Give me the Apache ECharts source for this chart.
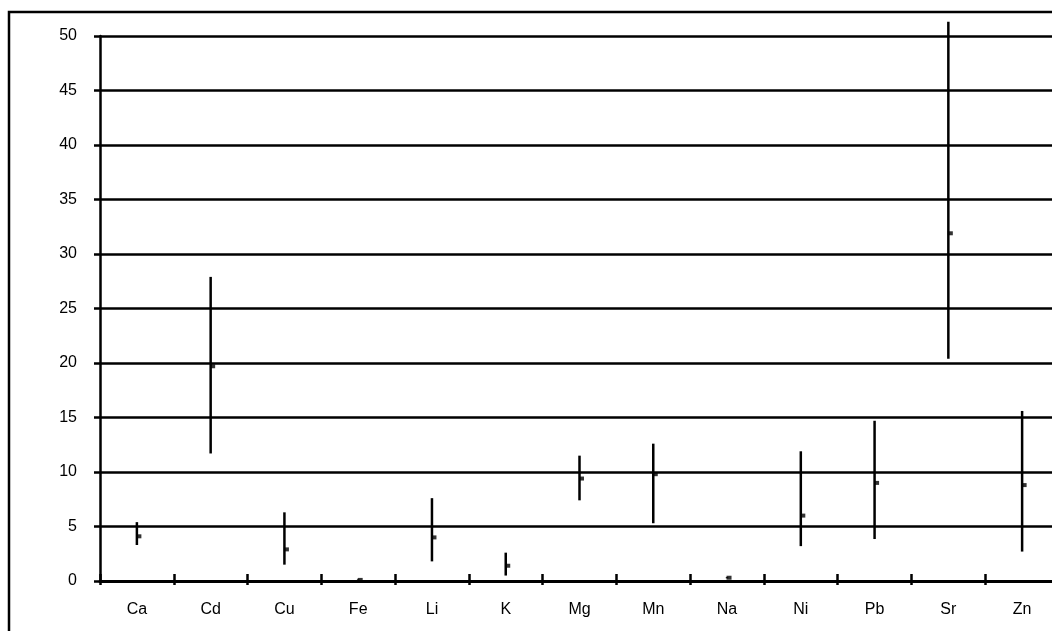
<!DOCTYPE html>
<html>
<head>
<meta charset="utf-8">
<script src="https://cdn.jsdelivr.net/npm/echarts@6/dist/echarts.min.js"></script>
<style>html,body{margin:0;padding:0;background:#fff;overflow:hidden;width:1052px;height:631px}#c{width:1059px;height:631px}</style>
</head>
<body>
<div id="c"></div>
<script>
var categories = ['Ca','Cd','Cu','Fe','Li','K','Mg','Mn','Na','Ni','Pb','Sr','Zn'];
var meanValues = [4.1, 19.7, 2.9, 0.1, 4.0, 1.4, 9.4, 9.8, 0.3, 6.0, 9.0, 31.9, 8.8];
var highValues = [5.4, 27.9, 6.3, 0.15, 7.6, 2.6, 11.5, 12.6, 0.35, 11.9, 14.7, 51.3, 15.6];
var lowValues  = [3.3, 11.7, 1.5, 0.05, 1.8, 0.5, 7.4, 5.3, 0.25, 3.2, 3.85, 20.4, 2.7];
var yTicks = [0,5,10,15,20,25,30,35,40,45,50];

var chart = echarts.init(document.getElementById('c'), null, {renderer:'canvas'});
var rangeData = categories.map(function(c,i){ return [i, lowValues[i], highValues[i]]; });
var font = 'Liberation Sans, Arial, sans-serif';
chart.setOption({
  animation:false,
  backgroundColor:'#fff',
  graphic:[{type:'polyline', shape:{points:[[9,640],[9,12],[1070,12]]}, style:{stroke:'#000', lineWidth:2.5, fill:null}}],
  grid:{left:100, top:36, height:545, width:959},
  xAxis:[{
    type:'category', data:categories, boundaryGap:true,
    axisLine:{lineStyle:{color:'#000', width:3}},
    axisTick:{show:true, inside:true, length:7, lineStyle:{color:'#000', width:2.5}},
    axisLabel:{color:'#000', fontFamily:font, fontSize:16, margin:21},
    splitLine:{show:false}
  },{
    type:'category', data:categories, boundaryGap:true, position:'bottom', gridIndex:0,
    axisLine:{show:false},
    axisTick:{show:true, inside:false, length:4, lineStyle:{color:'#000', width:2.5}},
    axisLabel:{show:false}, splitLine:{show:false}
  }],
  yAxis:{
    type:'value', min:0, max:50, interval:5,
    axisLine:{show:true, lineStyle:{color:'#000', width:2.5}},
    axisTick:{show:true, length:6, lineStyle:{color:'#000', width:2.5}},
    axisLabel:{color:'#000', fontFamily:font, fontSize:16, margin:23,
      formatter:function(v){ return yTicks.indexOf(v)>=0 ? String(v) : ''; }},
    splitLine:{show:true, lineStyle:{color:'#000', width:2.5}}
  },
  series:[{
    type:'custom', clip:false, data:rangeData, z:5,
    renderItem:function(params, api){
      var p1 = api.coord([api.value(0), api.value(1)]);
      var p2 = api.coord([api.value(0), api.value(2)]);
      return {type:'line', shape:{x1:p1[0], y1:p1[1], x2:p2[0], y2:p2[1]},
        style:{stroke:'#000', lineWidth:2.5}};
    }
  },{
    type:'scatter', data:meanValues, symbol:'rect', symbolSize:[5,4], symbolOffset:[2,0],
    itemStyle:{color:'#000'}, z:6, clip:false
  }]
});
</script>
</body>
</html>
